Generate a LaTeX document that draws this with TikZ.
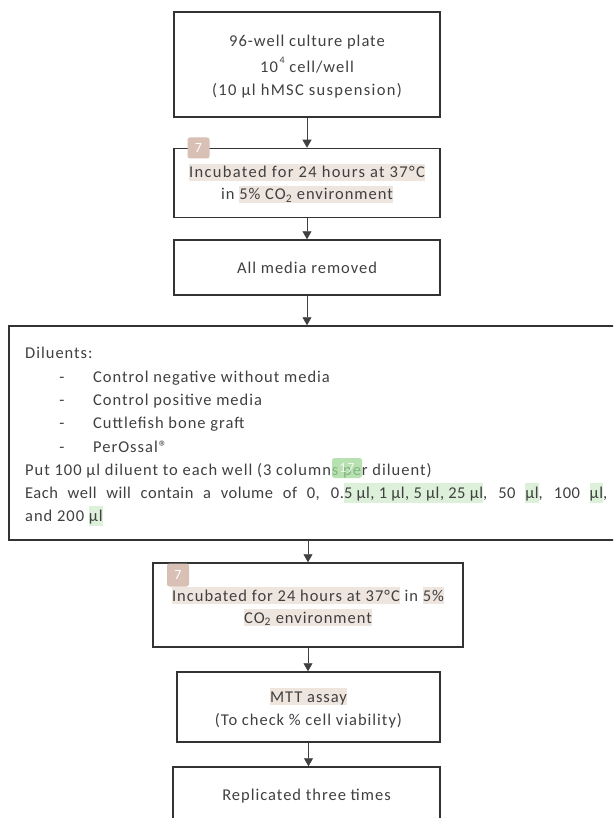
\documentclass[tikz,border=0pt]{standalone}
\usepackage{fontspec}
\setmainfont{Carlito}[LetterSpace=6]
\usetikzlibrary{arrows.meta}
\definecolor{txtgray}{HTML}{404040}
\definecolor{boxgray}{HTML}{333333}
\definecolor{hlbeige}{HTML}{EFE5DF}
\definecolor{badgebeige}{HTML}{D8C0B5}
\definecolor{hlgreen}{HTML}{DDF1DA}
\definecolor{badgegreen}{HTML}{9FD898}
\newcommand\hlb[1]{{\setlength{\fboxsep}{0pt}\colorbox{hlbeige}{\rule[-3pt]{0pt}{17pt}#1}}}
\newcommand\hlg[1]{{\setlength{\fboxsep}{0pt}\colorbox{hlgreen}{\rule[-5pt]{0pt}{20pt}#1}}}
\tikzset{
  stepbox/.style={draw=boxgray, line width=1.5pt, fill=white, rectangle, inner sep=0pt},
  txt/.style={font=\fontsize{16.5pt}{19pt}\selectfont, text=txtgray, inner sep=0pt},
  arr/.style={draw=black!75, line width=0.8pt, -{Triangle[width=9pt,length=8pt]}},
  badge/.style={rounded corners=2.5pt, inner sep=0pt, text=white, font=\fontsize{14pt}{15pt}\selectfont},
}
\begin{document}
\begin{tikzpicture}[x=1pt,y=-1pt]
\clip (0,0) rectangle (613,818);
\fill[white] (0,0) rectangle (613,818);
% boxes
\node[stepbox, minimum width=266pt, minimum height=105pt] (b1) at (307,64.5) {};
\node[stepbox, minimum width=266pt, minimum height=69pt] (b2) at (307,183) {};
\node[stepbox, minimum width=266pt, minimum height=55pt] (b3) at (307,267.5) {};
\node[stepbox, minimum width=620pt, minimum height=214pt] (b4) at (319,433) {};
\node[stepbox, minimum width=310pt, minimum height=84pt] (b5) at (308,605) {};
\node[stepbox, minimum width=263pt, minimum height=70pt] (b6) at (308.5,707) {};
\node[stepbox, minimum width=267pt, minimum height=66pt] (b7) at (306.5,800) {};
% arrows
\draw[arr] (b1.south) -- (b2.north);
\draw[arr] (b2.south) -- (b3.north);
\draw[arr] (b3.south) -- (b3.south |- b4.north);
\draw[arr] (b5.north |- b4.south) -- (b5.north);
\draw[arr] (b5.south) -- (b5.south |- b6.north);
\draw[arr] (b6.south) -- (b6.south |- b7.north);
% box 1 text
\node[txt, anchor=base] (t11) at (307,47) {96-well culture plate};
\node[txt, anchor=base] (t12) at (307,73) {10\raisebox{0.55em}{\fontsize{10pt}{11pt}\selectfont\,4} cell/well};
\node[txt, anchor=base] (t13) at (307,96) {\addfontfeature{LetterSpace=8}(10 µl hMSC suspension)};
% box 2 text
\node[txt, anchor=base] (t21) at (307,178) {\addfontfeature{LetterSpace=8}\hlb{Incubated for 24 hours at 37°C}};
\node[txt, anchor=base] (t22) at (307,200) {in \hlb{5\% CO\textsubscript{2} environment}};
\node[badge, fill=badgebeige, minimum width=22pt, minimum height=21pt] (k1) at (198.5,148) {7};
% box 3 text
\node[txt, anchor=base] (t31) at (307,273) {All media removed};
% box 4 text
\node[txt, anchor=base west] (t40) at (25,358) {Diluents:};
\node[txt, anchor=base] (d1) at (62,382) {-};
\node[txt, anchor=base west] (i1) at (93,382) {Control negative without media};
\node[txt, anchor=base] (d2) at (62,405) {-};
\node[txt, anchor=base west] (i2) at (93,405) {Control positive media};
\node[txt, anchor=base] (d3) at (62,428) {-};
\node[txt, anchor=base west] (i3) at (93,428) {Cuttlefish bone graft};
\node[txt, anchor=base] (d4) at (62,452) {-};
\node[txt, anchor=base west] (i4) at (93,452) {PerOssal®};
\node[txt, anchor=base west] (t45) at (25,475) {Put 100 µl diluent to each well (3 columns per diluent)};
\node[txt, anchor=base west] (t46) at (25,498) {\addfontfeature{LetterSpace=3}\makebox[582pt][s]{Each well will contain a volume of 0, 0.\hlg{5 µl, 1 µl, 5 µl, 25 µl}, 50 \hlg{µl}, 100 \hlg{µl},}};
\node[txt, anchor=base west] (t47) at (25,521) {and 200 \hlg{µl}};
\node[badge, fill=badgegreen, fill opacity=0.75, text opacity=0.8, minimum width=30pt, minimum height=20pt] (k3) at (347,468) {17};
% box 5 text
\node[txt, anchor=base] (t51) at (308,601) {\hlb{Incubated for 24 hours at 37°C} in \hlb{5\%}};
\node[txt, anchor=base] (t52) at (308,623) {\hlb{CO\textsubscript{2} environment}};
\node[badge, fill=badgebeige, minimum width=22pt, minimum height=23pt] (k2) at (178,575) {7};
% box 6 text
\node[txt, anchor=base] (t61) at (308.5,702) {\hlb{MTT assay}};
\node[txt, anchor=base] (t62) at (308.5,725) {(To check \% cell viability)};
% box 7 text
\node[txt, anchor=base] (t71) at (306.5,800) {Replicated three times};
\end{tikzpicture}
\end{document}
